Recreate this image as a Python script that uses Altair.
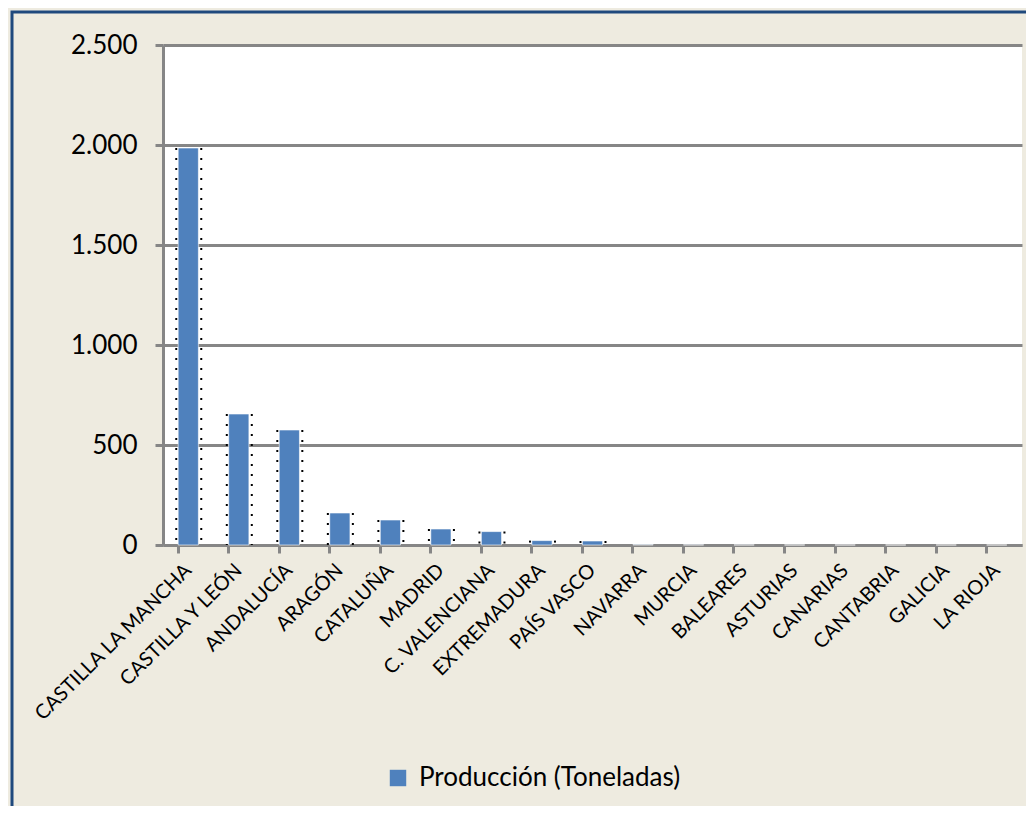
import altair as alt
import pandas as pd

categories = ["CASTILLA LA MANCHA", "CASTILLA Y LEÓN", "ANDALUCÍA", "ARAGÓN", "CATALUÑA",
              "MADRID", "C. VALENCIANA", "EXTREMADURA", "PAÍS VASCO", "NAVARRA", "MURCIA",
              "BALEARES", "ASTURIAS", "CANARIAS", "CANTABRIA", "GALICIA", "LA RIOJA"]
values = [1985, 655, 575, 160, 125, 80, 67, 22, 20, 2, 1, 0.5, 0.3, 0.2, 0.1, 0.1, 0.1]
series_name = "Producción (Toneladas)"

df = pd.DataFrame({"region": categories, "valor": values, "serie": series_name})

W, H = 859, 500
PL, PT = 155, 37
TOTAL_W, TOTAL_H = 1018, 798
FONT = "Lato"

yscale = alt.Scale(domain=[0, 2500], nice=False, zero=True)

border = alt.Chart(pd.DataFrame({"a": [0]})).mark_rect(
    fill=None, stroke="#1F497D", strokeWidth=3
).encode(
    x=alt.value(-151), x2=alt.value(TOTAL_W - PL + 20),
    y=alt.value(-33), y2=alt.value(TOTAL_H - PT + 20),
)

bars = alt.Chart(df).mark_bar(stroke="white", strokeWidth=0.6).encode(
    x=alt.X("region:N", sort=categories,
            scale=alt.Scale(paddingInner=0.6, paddingOuter=0.3),
            axis=alt.Axis(title=None, labelAngle=-45, labelFont=FONT, labelFontSize=20,
                          labelColor="#000000", bandPosition=0, tickSize=8, tickWidth=3,
                          tickColor="#868686", domainColor="#868686", domainWidth=3,
                          labelPadding=14, labelLimit=400, grid=False)),
    y=alt.Y("valor:Q", scale=yscale,
            axis=alt.Axis(title=None, values=[0, 500, 1000, 1500, 2000, 2500],
                          labelExpr="replace(format(datum.value, ','), ',', '.')",
                          labelFont=FONT, labelFontSize=26, labelColor="#000000",
                          tickSize=8, tickWidth=3, tickColor="#868686",
                          domainColor="#868686", domainWidth=3, labelPadding=18,
                          grid=True, gridColor="#868686", gridWidth=3)),
    color=alt.Color("serie:N", scale=alt.Scale(range=["#4F81BD"]),
                    legend=alt.Legend(title=None, orient="none", legendX=222, legendY=720,
                                      labelFont=FONT, labelFontSize=26, labelColor="#000000",
                                      labelLimit=500,
                                      symbolType="square", symbolSize=270,
                                      symbolStrokeWidth=0, labelOffset=8)),
)

shadow_src = df[df["valor"] > 15]
shadow_left = alt.Chart(shadow_src).mark_rule(
    color="black", strokeWidth=2, strokeDash=[2, 8], xOffset=-12
).encode(
    x=alt.X("region:N", sort=categories, bandPosition=0.5),
    y=alt.Y("valor:Q", scale=yscale), y2=alt.datum(0),
)
shadow_right = alt.Chart(shadow_src).mark_rule(
    color="black", strokeWidth=2, strokeDash=[2, 8], xOffset=13
).encode(
    x=alt.X("region:N", sort=categories, bandPosition=0.5),
    y=alt.Y("valor:Q", scale=yscale), y2=alt.datum(0),
)

chart = alt.layer(shadow_left, shadow_right, bars, border).properties(
    width=W, height=H,
    padding={"left": PL, "top": PT, "right": TOTAL_W - PL - W, "bottom": TOTAL_H - PT - H},
    autosize=alt.AutoSizeParams(type="none"),
    background="#EEEBE0",
).configure_view(stroke=None, fill="white")

chart.save("out.html", embed_options={"renderer": "svg", "actions": False})
